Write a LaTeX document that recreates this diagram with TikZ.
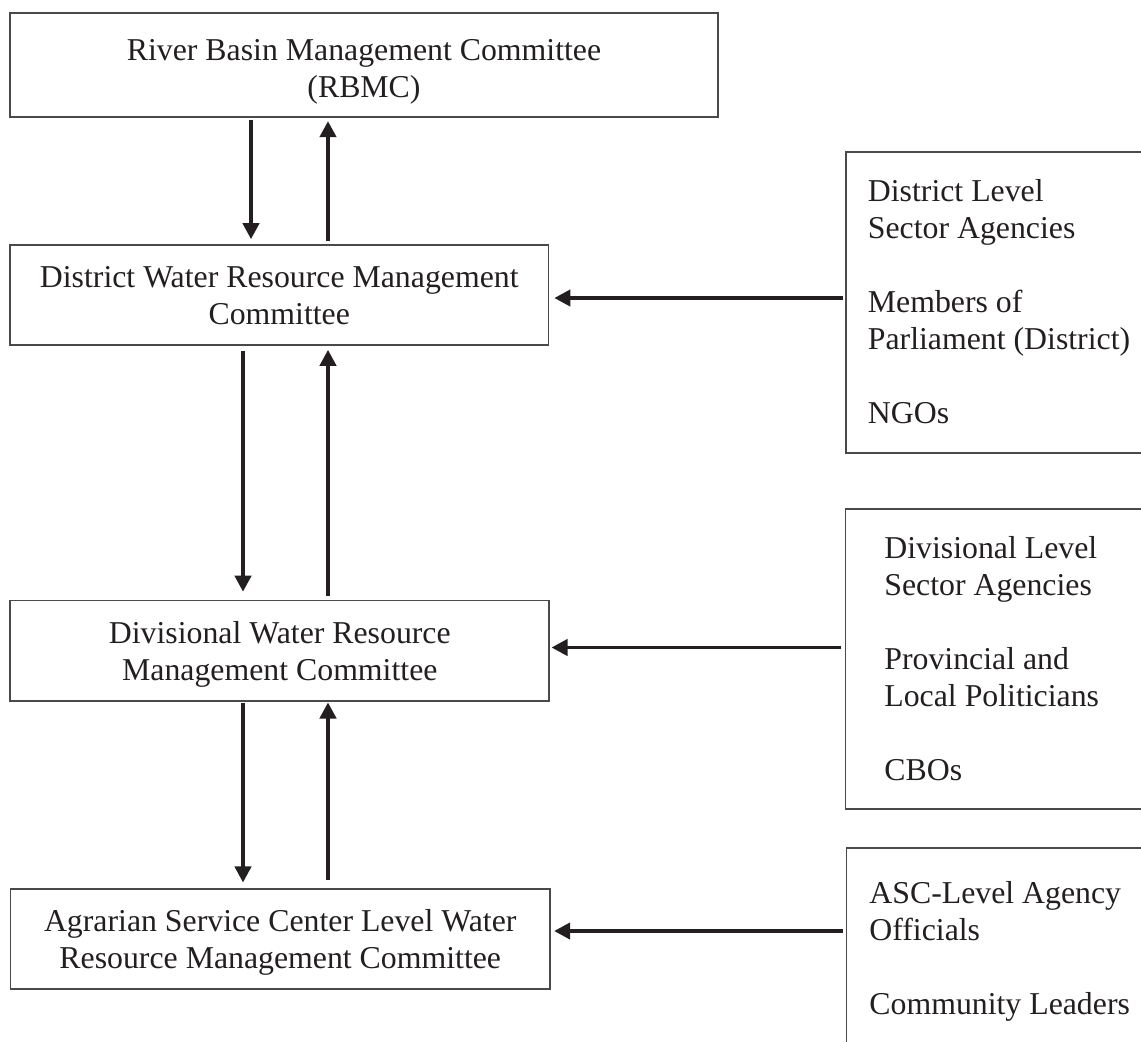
\documentclass[tikz,border=0pt]{standalone}
\usepackage{fontspec}
\setmainfont{Liberation Serif}
\usetikzlibrary{arrows.meta}
\definecolor{boxline}{HTML}{4A4A4A}
\definecolor{inkcol}{HTML}{231F20}
\newcommand\myTopStrut{\rule{0pt}{14.35pt}}
\newcommand\myTallStrut{\rule{0pt}{17.35pt}}
\newcommand\myBotStrut{\rule[-3.45pt]{0pt}{3.45pt}}
\begin{document}
\begin{tikzpicture}[x=0.5pt,y=-0.5pt,
  every node/.style={font=\fontsize{15.9}{18.5}\selectfont, text=inkcol},
  mainbox/.style={draw=boxline, line width=0.9pt, rectangle, align=center, inner sep=0pt},
  sidebox/.style={draw=boxline, line width=0.9pt, rectangle, inner sep=0pt, anchor=north west},
  sidetext/.style={align=left, inner sep=0pt, anchor=north west},
  arr/.style={draw=inkcol, line width=1.6pt, -{Triangle[length=8pt,width=8.2pt]}}
]
\useasboundingbox (0,0) rectangle (1141,1041);
\clip (0,0) rectangle (1141,1041);

% main column
\node[mainbox, minimum width=354pt, minimum height=52pt] (rb) at (364,65)
  {\myTallStrut River Basin Management Committee\\(RBMC)\myBotStrut};
\node[mainbox, minimum width=269.25pt, minimum height=50pt] (dw) at (279.25,295)
  {\myTopStrut District Water Resource Management\\Committee\myBotStrut};
\node[mainbox, minimum width=269.5pt, minimum height=50.25pt] (dv) at (279.8,650.75)
  {\myTopStrut Divisional Water Resource\\Management Committee\myBotStrut};
\node[mainbox, minimum width=269.75pt, minimum height=50.15pt] (asc) at (280.25,938.85)
  {\myTopStrut Agrarian Service Center Level Water\\Resource Management Committee\myBotStrut};

% side boxes
\node[sidebox, minimum width=157.5pt, minimum height=150.65pt] (s1) at (845,150.7) {};
\node[sidebox, minimum width=157.5pt, minimum height=150.15pt] (s2) at (844.5,508) {};
\node[sidebox, minimum width=157.5pt, minimum height=106.35pt] (s3) at (845.5,847.3) {};

\node[sidetext] (t1) at (867.5,172.3)
  {\myTopStrut District Level\\Sector Agencies\\[18.5pt]Members of\\Parliament (District)\\[18.5pt]NGOs};
\node[sidetext] (t2) at (884,529.8)
  {\myTopStrut Divisional Level\\Sector Agencies\\[18.5pt]Provincial and\\Local Politicians\\[18.5pt]CBOs};
\node[sidetext] (t3) at (869,874.8)
  {\myTopStrut ASC-Level Agency\\Officials\\[18.5pt]Community Leaders};

% vertical connectors
\draw[arr, shorten <=0.8pt, shorten >=2.5pt] (251,0 |- rb.south) -- (251,0 |- dw.north);
\draw[arr, shorten <=1.65pt, shorten >=1.65pt] (328,0 |- dw.north) -- (328,0 |- rb.south);
\draw[arr, shorten <=2.5pt, shorten >=4pt] (243,0 |- dw.south) -- (243,0 |- dv.north);
\draw[arr, shorten <=1.65pt, shorten >=2pt] (328,0 |- dv.north) -- (328,0 |- dw.south);
\draw[arr, shorten <=0.3pt, shorten >=2.7pt] (243,0 |- dv.south) -- (243,0 |- asc.north);
\draw[arr, shorten <=3.85pt, shorten >=0.3pt] (328,0 |- asc.north) -- (328,0 |- dv.south);

% horizontal connectors
\draw[arr, shorten <=1pt, shorten >=2.5pt] (s1.west |- 0,298) -- (dw.east |- 0,298);
\draw[arr, shorten <=2pt, shorten >=0.7pt] (s2.west |- 0,647.5) -- (dv.east |- 0,647.5);
\draw[arr, shorten <=1.5pt, shorten >=1.65pt] (s3.west |- 0,931) -- (asc.east |- 0,931);
\end{tikzpicture}
\end{document}
